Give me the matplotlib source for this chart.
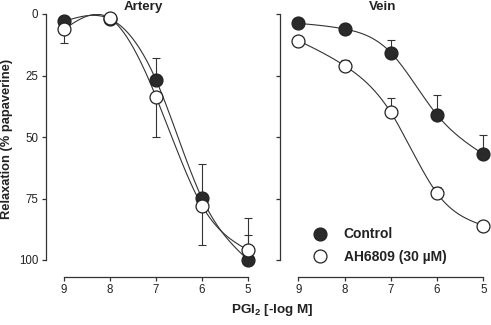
import numpy as np
import matplotlib
matplotlib.use("Agg")
from matplotlib import pyplot as plt
from matplotlib.lines import Line2D

plt.rcParams['font.family'] = ['Liberation Sans', 'DejaVu Sans']
plt.rcParams['mathtext.fontset'] = 'custom'
plt.rcParams['mathtext.bf'] = 'Liberation Sans:bold'
plt.rcParams['mathtext.rm'] = 'Liberation Sans:bold'

# concentrations (-log M)
conc = np.array([9, 8, 7, 6, 5])

# Artery
art_ctrl = np.array([3.0, 2.0, 26.8, 74.9, 100.0])
art_ctrl_up = np.array([0, 0, 9.0, 14.0, 10.0])
art_ah = np.array([6.2, 1.8, 33.6, 77.9, 96.0])
art_ah_dn = np.array([5.5, 0, 16.3, 16.1, 0])
art_ah_up = np.array([0, 0, 0, 0, 13.0])

# Vein
vein_ctrl = np.array([3.8, 6.1, 15.7, 41.0, 57.0])
vein_ctrl_up = np.array([0, 2.0, 5.0, 8.0, 8.0])
vein_ah = np.array([10.8, 21.0, 40.0, 72.9, 86.0])
vein_ah_up = np.array([0, 2.5, 6.0, 2.5, 2.0])


def spline(x, y, n=200):
    # natural cubic spline through the points
    order = np.argsort(x)
    x = x[order].astype(float)
    y = y[order].astype(float)
    m = len(x)
    h = np.diff(x)
    A = np.zeros((m, m))
    r = np.zeros(m)
    A[0, 0] = A[-1, -1] = 1
    for i in range(1, m - 1):
        A[i, i - 1] = h[i - 1]
        A[i, i] = 2 * (h[i - 1] + h[i])
        A[i, i + 1] = h[i]
        r[i] = 6 * ((y[i + 1] - y[i]) / h[i] - (y[i] - y[i - 1]) / h[i - 1])
    M = np.linalg.solve(A, r)
    xs = np.linspace(x[0], x[-1], n)
    ys = np.zeros_like(xs)
    for k, xv in enumerate(xs):
        i = min(np.searchsorted(x, xv) - 1, m - 2)
        i = max(i, 0)
        a = x[i + 1] - xv
        b = xv - x[i]
        ys[k] = (M[i] * a**3 + M[i + 1] * b**3) / (6 * h[i]) \
            + (y[i] / h[i] - M[i] * h[i] / 6) * a \
            + (y[i + 1] / h[i] - M[i + 1] * h[i] / 6) * b
    return xs, ys


fig = plt.figure(figsize=(4.91, 3.25), dpi=100)
W, H = 491, 325
ax1 = fig.add_axes([64 / W, 1 - 260 / H, 184 / W, 246 / H])
ax2 = fig.add_axes([298.3 / W, 1 - 260 / H, 185 / W, 246 / H])

dark = '#2a2a2a'
ms = 9.3


def series(ax, y, err, filled):
    xs, ys = spline(conc, y)
    ax.plot(xs, ys, '-', color='#333333', lw=0.8, zorder=1)
    ax.errorbar(conc, y, yerr=err, fmt='none', ecolor='#333333',
                elinewidth=0.8, capsize=3.2, capthick=0.8, zorder=2,
                clip_on=False)
    ax.plot(conc, y, 'o', ms=ms, mfc=dark if filled else 'white',
            mec='#222222', mew=0.9, zorder=3, clip_on=False, ls='none')


series(ax1, art_ctrl, [art_ctrl_up, np.zeros(5)], True)
series(ax1, art_ah, [art_ah_up, art_ah_dn], False)
series(ax2, vein_ctrl, [vein_ctrl_up, np.zeros(5)], True)
series(ax2, vein_ah, [vein_ah_up, np.zeros(5)], False)

for ax in (ax1, ax2):
    ax.set_xlim(9, 5)
    ax.set_ylim(100, 0)
    ax.set_xticks(conc)
    ax.set_xticklabels([str(c) for c in conc])
    ax.set_yticks([0, 25, 50, 75, 100])
    for s in ('top', 'right'):
        ax.spines[s].set_visible(False)
    ax.spines['left'].set_position(('outward', 13))
    ax.spines['bottom'].set_position(('outward', 12))
    ax.spines['left'].set_bounds(0, 100)
    ax.spines['bottom'].set_bounds(9, 5)
    for s in ('left', 'bottom'):
        ax.spines[s].set_color('#333333')
        ax.spines[s].set_linewidth(0.9)
    ax.tick_params(direction='out', length=3, width=0.9, color='#333333',
                   labelsize=8.3, pad=2.5, labelcolor='#222222')
    ax.patch.set_visible(False)

ax2.set_yticklabels([])

fig.text(143 / W, 1 - 7 / H, 'Artery', ha='center', va='center',
         fontsize=9.6, fontweight='bold', color='#222222')
fig.text(383 / W, 1 - 7 / H, 'Vein', ha='center', va='center',
         fontsize=9.6, fontweight='bold', color='#222222')
fig.text(7 / W, 1 - 139 / H, 'Relaxation (% papaverine)', rotation=90,
         ha='center', va='center', fontsize=9.3, fontweight='bold',
         color='#222222')
fig.text(272 / W, 1 - 310 / H, r'PGI$_{\mathbf{2}}$ [-log M]', ha='center',
         va='center', fontsize=9.7, fontweight='bold', color='#222222')

handles = [Line2D([], [], marker='o', ls='none', ms=ms, mfc=dark,
                  mec='#222222', mew=0.9),
           Line2D([], [], marker='o', ls='none', ms=ms, mfc='white',
                  mec='#222222', mew=0.9)]
leg = fig.legend(handles, ['Control', 'AH6809 (30 µM)'], loc='lower left',
                 bbox_to_anchor=(306 / W, 1 - 264 / H), frameon=False,
                 prop={'weight': 'bold', 'size': 10}, handletextpad=0.7,
                 labelspacing=0.62, borderaxespad=0, borderpad=0)
for t in leg.get_texts():
    t.set_color('#222222')

fig.savefig('out.png', dpi=100)
